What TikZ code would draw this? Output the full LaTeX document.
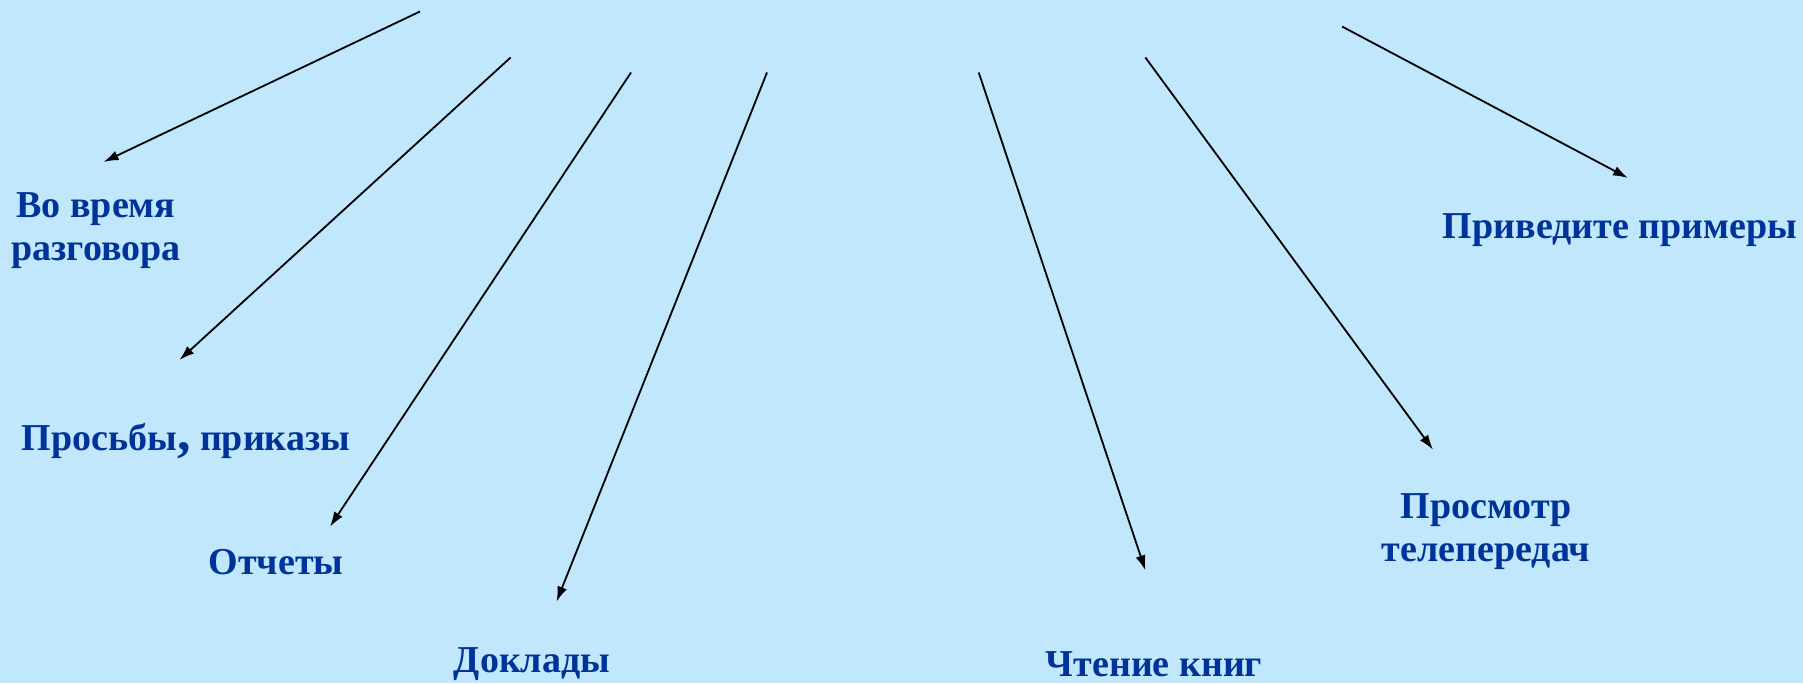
\documentclass[tikz,border=0pt]{standalone}
\usepackage{fontspec}
\setmainfont{Liberation Serif}
\usepackage{xcolor}
\usetikzlibrary{arrows.meta}
\definecolor{skyBack}{RGB}{192,231,251}
\definecolor{labelBlue}{RGB}{0,51,153}

\begin{document}
\begin{tikzpicture}[x=1pt, y=-1pt,
      label/.style={align=center, text=labelBlue, inner sep=0pt,
      font=\bfseries\fontsize{38}{43}\selectfont},
      arrow/.style={-{Latex[length=15pt, width=10pt]}, line width=1.8pt, draw=black}
    ]
    \fill[skyBack] (0,0) rectangle (1803,683);
    \useasboundingbox (0,0) rectangle (1803,683);

    % labels
    \node[label] (talk) at (96,231) {Во время\\разговора};
    \node[label] (orders) at (186,441) {Просьбы{\fontsize{54}{43}\selectfont,} приказы};
    \node[label] (reports) at (276,562) {Отчеты};
    \node[label] (papers) at (532,664) {Доклады};
    \node[label] (books) at (1154,664) {Чтение книг};
    \node[label] (tv) at (1486,532) {Просмотр\\телепередач};
    \node[label] (examples) at (1620,230) {Приведите примеры};

    % arrow ends
    \coordinate (s1) at (420,11.5);   \coordinate (e1) at (103.5,162);
    \coordinate (s2) at (510.6,57.5); \coordinate (e2) at (179.4,360);
    \coordinate (s3) at (631,72.5);   \coordinate (e3) at (330,526.7);
    \coordinate (s4) at (767,72.5);   \coordinate (e4) at (556.6,601.5);
    \coordinate (s5) at (978.7,72.5); \coordinate (e5) at (1145.4,570.4);
    \coordinate (s6) at (1145.4,57.5);\coordinate (e6) at (1433,449.7);
    \coordinate (s7) at (1342,26.5);  \coordinate (e7) at (1628,178);

    \foreach \i in {1,...,7}
      \draw[arrow] (s\i) -- (e\i);
  \end{tikzpicture}
\end{document}
